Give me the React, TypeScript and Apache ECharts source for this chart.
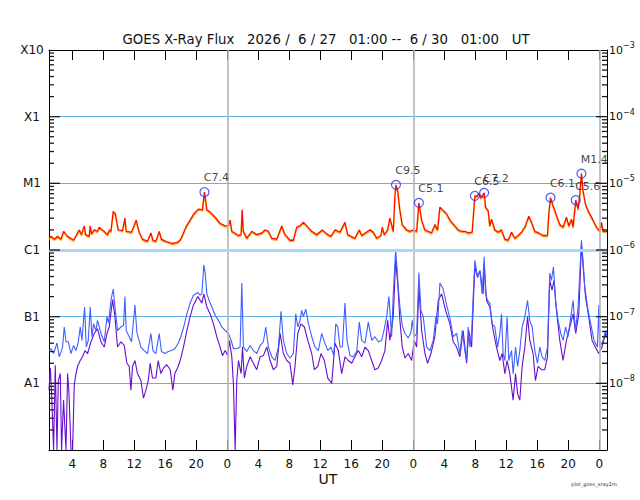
import React, { useEffect, useRef } from 'react';
import * as echarts from 'echarts';

// Hours are counted from 2026-06-27 00:00 UT; the plot spans 01:00 (h=1) to 6/30 01:00 (h=73)
const longPrimary: [number, number][] = [
  [1.0,1.5e-6],[1.26,1.6e-6],[1.68,1.45e-6],[2.11,1.6e-6],[2.55,1.45e-6],[2.88,1.9e-6],[3.4,1.6e-6],[4.17,1.4e-6],
  [4.91,2.0e-6],[5.2,1.7e-6],[5.55,2.3e-6],[5.72,1.7e-6],[6.19,1.6e-6],[6.32,2.3e-6],[6.49,1.75e-6],[6.84,2.0e-6],
  [7.26,1.9e-6],[7.48,2.2e-6],[8.13,1.9e-6],[8.55,1.7e-6],[8.81,2.0e-6],[8.99,1.9e-6],[9.29,3.8e-6],[9.55,3.5e-6],
  [9.93,2.0e-6],[10.49,1.95e-6],[10.8,3.0e-6],[10.96,1.9e-6],[11.65,1.85e-6],[12.25,2.8e-6],[12.64,1.85e-6],
  [13.07,1.45e-6],[13.71,1.35e-6],[14.15,1.8e-6],[14.41,1.4e-6],[14.79,1.35e-6],[15.22,1.9e-6],[15.51,1.45e-6],
  [16.08,1.35e-6],[16.93,1.25e-6],[17.58,1.3e-6],[18.01,1.45e-6],[18.66,2.2e-6],[19.21,2.8e-6],[19.64,3.4e-6],
  [20.28,4.1e-6],[20.8,4.0e-6],[21.06,7.4e-6],[21.37,4.0e-6],[21.79,3.7e-6],[22.44,3.1e-6],[23.08,2.5e-6],
  [23.72,2.3e-6],[24.15,2.3e-6],[24.37,2.8e-6],[24.59,1.9e-6],[25.44,1.65e-6],[25.79,1.7e-6],[25.92,4.0e-6],
  [26.08,1.9e-6],[26.52,1.5e-6],[27.17,1.9e-6],[27.81,1.7e-6],[28.46,1.8e-6],[28.88,2.0e-6],[29.31,1.9e-6],
  [29.75,1.5e-6],[30.39,1.45e-6],[31.03,2.3e-6],[31.46,1.7e-6],[32.1,1.4e-6],[32.53,1.4e-6],[32.97,2.2e-6],
  [33.39,2.3e-6],[33.82,2.6e-6],[34.26,2.3e-6],[34.9,1.9e-6],[35.55,1.7e-6],[36.27,2.0e-6],[36.83,1.75e-6],
  [37.39,1.6e-6],[37.9,2.0e-6],[38.55,1.85e-6],[39.19,2.6e-6],[39.54,1.7e-6],[40.48,1.5e-6],[41.04,2.0e-6],
  [41.35,1.65e-6],[41.99,1.85e-6],[42.42,2.0e-6],[42.84,1.85e-6],[43.28,1.5e-6],[43.83,1.65e-6],[44.0,2.2e-6],
  [44.26,1.7e-6],[44.7,2.0e-6],[44.99,3.0e-6],[45.42,1.9e-6],[45.64,6.5e-6],[45.77,9.5e-6],[45.99,7.7e-6],
  [46.28,3.9e-6],[46.58,2.4e-6],[47.15,2.0e-6],[47.57,1.9e-6],[48.0,2.0e-6],[48.44,1.9e-6],[48.73,5.1e-6],
  [49.08,2.8e-6],[49.51,2.0e-6],[49.93,1.9e-6],[50.37,1.8e-6],[50.79,2.4e-6],[51.14,2.0e-6],[51.44,4.4e-6],
  [51.86,3.9e-6],[52.3,3.5e-6],[52.73,2.8e-6],[53.37,2.3e-6],[53.8,2.0e-6],[54.24,1.9e-6],[54.66,1.9e-6],
  [55.09,1.8e-6],[55.6,1.85e-6],[55.95,6.5e-6],[56.17,6.3e-6],[56.46,7.0e-6],[56.72,6.0e-6],[57.02,6.8e-6],
  [57.15,7.2e-6],[57.33,4.4e-6],[57.66,3.9e-6],[57.88,2.3e-6],[58.1,2.9e-6],[58.53,2.0e-6],[58.95,1.85e-6],
  [59.39,2.0e-6],[59.82,1.45e-6],[60.24,1.4e-6],[60.68,1.85e-6],[61.11,1.5e-6],[61.53,1.65e-6],[61.97,1.85e-6],
  [62.4,2.2e-6],[62.91,3.2e-6],[63.26,2.6e-6],[63.69,1.9e-6],[64.2,1.8e-6],[64.76,1.65e-6],[65.32,1.65e-6],
  [65.49,3.5e-6],[65.71,6.1e-6],[66.04,4.6e-6],[66.48,3.3e-6],[66.91,2.4e-6],[67.33,2.2e-6],[67.77,3.1e-6],
  [68.07,2.3e-6],[68.42,2.9e-6],[68.62,2.2e-6],[68.97,5.6e-6],[69.27,4.1e-6],[69.49,6.8e-6],[69.7,1.4e-5],
  [69.91,7.7e-6],[70.22,4.9e-6],[70.64,3.7e-6],[71.2,2.8e-6],[71.64,2.2e-6],[72.07,1.9e-6],[72.3,2.6e-6],
  [72.49,1.9e-6],[73.0,1.9e-6],
];

const shortPrimary: [number, number][] = [
  [1.0,3.1e-8],[1.26,3.3e-8],[1.59,2.8e-8],[2.03,4.0e-8],[2.33,2.5e-8],[2.75,3.5e-8],[2.97,7.0e-8],[3.19,4.2e-8],
  [3.49,4.2e-8],[3.84,2.8e-8],[4.17,3.7e-8],[4.48,3.1e-8],[4.78,4.2e-8],[5.03,7.0e-8],[5.25,4.4e-8],[5.59,1.4e-7],
  [5.81,3.5e-8],[6.07,4.4e-8],[6.32,1.4e-7],[6.54,5.0e-8],[6.75,7.8e-8],[7.06,6.2e-8],[7.26,8.8e-8],[7.7,5.6e-8],
  [8.13,4.2e-8],[8.48,1.0e-7],[8.68,8.0e-8],[8.99,1.75e-7],[9.29,2.6e-7],[9.51,1.4e-7],[9.84,6.2e-8],[10.28,7.0e-8],
  [10.62,7.4e-8],[10.8,2.0e-7],[10.96,6.2e-8],[11.35,5.0e-8],[11.65,4.2e-8],[12.09,1.5e-7],[12.34,5.8e-8],
  [12.86,3.5e-8],[13.28,3.1e-8],[13.71,2.8e-8],[14.15,5.6e-8],[14.41,3.1e-8],[14.79,2.8e-8],[15.22,5.6e-8],
  [15.51,3.0e-8],[15.95,2.8e-8],[16.38,3.0e-8],[16.8,3.1e-8],[17.24,3.3e-8],[17.67,4.0e-8],[18.01,5.0e-8],
  [18.44,7.4e-8],[18.79,1.1e-7],[19.21,1.6e-7],[19.64,2.1e-7],[20.21,2.3e-7],[20.5,2.1e-7],[20.72,2.2e-7],
  [20.98,6.0e-7],[21.15,4.5e-7],[21.37,2.2e-7],[21.66,1.75e-7],[22.01,1.4e-7],[22.44,1.05e-7],[22.86,8.8e-8],
  [23.3,7.0e-8],[23.73,6.2e-8],[24.15,5.6e-8],[24.5,4.4e-8],[24.8,3.3e-8],[25.23,3.3e-8],[25.66,3.5e-8],
  [25.88,3.2e-7],[26.08,3.5e-8],[26.52,3.0e-8],[26.95,3.7e-8],[27.37,3.1e-8],[27.81,2.8e-8],[28.24,3.7e-8],
  [28.66,4.2e-8],[28.97,7.0e-8],[29.31,3.5e-8],[29.75,2.5e-8],[30.17,2.2e-8],[30.6,3.5e-8],[30.94,1.2e-7],
  [31.24,4.4e-8],[31.68,2.8e-8],[32.1,2.4e-8],[32.53,2.8e-8],[32.84,1.1e-7],[33.1,7.0e-8],[33.39,8.8e-8],
  [33.61,1.24e-7],[33.82,1.0e-7],[34.13,1.3e-7],[34.46,8.0e-8],[34.9,5.0e-8],[35.33,3.5e-8],[35.75,3.1e-8],
  [36.19,5.6e-8],[36.53,4.2e-8],[36.97,3.1e-8],[37.39,3.5e-8],[37.74,2.6e-8],[38.0,7.8e-8],[38.26,7.0e-8],
  [38.55,3.5e-8],[38.85,3.5e-8],[39.19,1.6e-7],[39.45,4.4e-8],[39.84,2.6e-8],[40.26,2.5e-8],[40.7,3.0e-8],
  [41.04,8.3e-8],[41.35,4.4e-8],[41.77,4.0e-8],[42.2,8.3e-8],[42.63,4.4e-8],[43.06,5.0e-8],[43.49,4.2e-8],
  [43.92,4.4e-8],[44.22,6.2e-8],[44.57,1.0e-7],[44.86,2.0e-7],[45.21,5.0e-8],[45.42,2.2e-7],[45.73,1.0e-6],
  [45.9,5.6e-7],[46.06,2.8e-7],[46.28,1.4e-7],[46.58,7.4e-8],[46.93,5.6e-8],[47.35,4.8e-8],[47.7,5.8e-8],
  [47.87,8.8e-8],[48.13,5.0e-8],[48.44,5.6e-8],[48.73,4.6e-7],[48.99,1.24e-7],[49.29,1.0e-7],[49.73,3.5e-8],
  [50.15,3.1e-8],[50.58,4.4e-8],[50.93,1.0e-7],[51.14,7.8e-8],[51.44,3.2e-7],[51.86,2.6e-7],[52.3,1.5e-7],
  [52.73,9.5e-8],[53.16,5.0e-8],[53.59,5.6e-8],[54.02,2.8e-8],[54.32,6.2e-8],[54.67,3.0e-8],[54.88,2.2e-8],
  [55.09,7.0e-8],[55.31,3.5e-8],[55.53,5.6e-8],[55.73,2.0e-7],[55.95,7.0e-7],[56.3,3.9e-7],[56.6,4.9e-7],
  [56.89,2.2e-7],[57.15,7.9e-7],[57.33,2.2e-7],[57.59,1.75e-7],[57.88,1.6e-7],[58.18,7.8e-8],[58.53,7.0e-8],
  [58.88,3.5e-8],[59.17,5.6e-8],[59.39,1.1e-7],[59.59,2.8e-8],[59.82,2.2e-8],[60.11,1.0e-7],[60.33,2.2e-8],
  [60.68,3.1e-8],[60.89,1.4e-8],[61.2,3.5e-8],[61.46,1.8e-8],[61.75,3.1e-8],[62.05,7.0e-8],[62.4,1.0e-7],
  [62.75,1.75e-7],[63.04,8.8e-8],[63.34,7.0e-8],[63.69,3.1e-8],[64.03,2.0e-8],[64.33,3.5e-8],[64.63,2.5e-8],
  [64.97,2.2e-8],[65.32,3.5e-8],[65.61,4.5e-7],[65.83,3.5e-7],[66.09,5.6e-7],[66.35,1.75e-7],[66.69,8.8e-8],
  [67.04,5.6e-8],[67.34,4.4e-8],[67.65,7.0e-8],[67.98,5.0e-8],[68.33,1.0e-7],[68.62,1.75e-7],[68.93,6.2e-8],
  [69.27,1.4e-7],[69.7,1.4e-6],[69.91,7.0e-7],[70.13,2.8e-7],[70.48,1.4e-7],[70.9,7.8e-8],[71.33,4.4e-8],
  [71.77,3.5e-8],[71.95,1.5e-7],[72.06,3.5e-8],[72.49,4.4e-8],[72.8,6.2e-8],[73.0,5.0e-8],
];

const shortSecondary: [number, number][] = [
  [1.0,7.9e-9],[1.17,1.7e-8],[1.34,7.0e-9],[1.59,1.0e-9],[1.81,1.87e-8],[2.03,1.0e-9],[2.2,1.1e-8],[2.46,1.4e-8],
  [2.62,1.0e-9],[2.88,5.6e-9],[3.19,1.0e-9],[3.4,1.4e-8],[3.58,7.0e-9],[3.84,1.0e-9],[4.04,1.0e-9],[4.26,9.5e-9],
  [4.48,1.4e-8],[4.69,1.8e-8],[5.03,2.2e-8],[5.33,2.5e-8],[5.64,3.1e-8],[5.98,2.8e-8],[6.41,4.2e-8],[6.84,5.6e-8],
  [7.26,6.6e-8],[7.7,4.2e-8],[8.13,3.5e-8],[8.48,5.6e-8],[8.77,7.0e-8],[9.2,1.8e-7],[9.51,1.0e-7],[9.84,3.5e-8],
  [10.28,4.2e-8],[10.71,3.7e-8],[11.05,2.0e-8],[11.35,1.8e-8],[11.57,7.9e-9],[11.78,1.8e-8],[12.09,2.2e-8],
  [12.42,1.4e-8],[12.86,1.1e-8],[13.19,6.0e-9],[13.5,7.9e-9],[13.8,1.1e-8],[14.06,2.0e-8],[14.35,1.2e-8],
  [14.79,1.2e-8],[15.09,2.2e-8],[15.44,1.4e-8],[15.77,1.7e-8],[16.21,1.9e-8],[16.64,1.6e-8],[16.98,7.9e-9],
  [17.24,1.4e-8],[17.58,1.7e-8],[17.93,2.2e-8],[18.35,3.5e-8],[18.79,6.2e-8],[19.21,1.0e-7],[19.64,1.5e-7],
  [20.21,2.0e-7],[20.72,1.6e-7],[20.98,2.2e-7],[21.37,1.4e-7],[21.79,1.1e-7],[22.22,7.8e-8],[22.65,5.0e-8],
  [23.08,3.5e-8],[23.38,2.6e-8],[23.73,3.1e-8],[24.07,2.6e-8],[24.28,4.4e-8],[24.59,2.5e-8],[24.8,9.5e-9],
  [25.02,1.0e-9],[25.23,1.1e-8],[25.45,2.2e-8],[25.79,1.4e-8],[25.96,3.5e-8],[26.21,1.2e-8],[26.52,1.8e-8],
  [26.95,2.5e-8],[27.37,2.0e-8],[27.81,1.6e-8],[28.24,2.5e-8],[28.66,2.6e-8],[29.1,3.5e-8],[29.53,2.2e-8],
  [29.95,1.6e-8],[30.39,1.8e-8],[30.82,5.6e-8],[31.24,2.8e-8],[31.68,2.2e-8],[32.1,2.0e-8],[32.45,9.5e-9],
  [32.74,1.8e-8],[33.1,5.6e-8],[33.52,7.8e-8],[33.95,7.0e-8],[34.39,4.4e-8],[34.9,2.8e-8],[35.24,1.6e-8],
  [35.68,1.8e-8],[36.1,2.8e-8],[36.53,2.2e-8],[36.97,1.2e-8],[37.48,1.0e-8],[37.9,4.0e-8],[38.33,3.1e-8],
  [38.77,1.4e-8],[39.19,2.5e-8],[39.62,2.2e-8],[40.06,2.0e-8],[40.48,2.5e-8],[40.91,3.1e-8],[41.35,2.5e-8],
  [41.77,3.5e-8],[42.2,3.1e-8],[42.63,2.2e-8],[43.06,1.6e-8],[43.49,1.7e-8],[43.92,2.2e-8],[44.35,3.1e-8],
  [44.7,8.8e-8],[44.99,4.4e-8],[45.42,1.0e-7],[45.73,7.0e-7],[45.99,3.2e-7],[46.28,8.8e-8],[46.58,3.5e-8],
  [46.93,2.4e-8],[47.35,2.8e-8],[47.79,2.2e-8],[48.13,4.4e-8],[48.44,3.5e-8],[48.73,2.8e-7],[49.08,6.2e-8],
  [49.51,2.8e-8],[49.85,2.0e-8],[50.28,2.8e-8],[50.79,5.0e-8],[51.22,1.75e-7],[51.66,2.2e-7],[52.17,1.24e-7],
  [52.73,7.8e-8],[53.16,4.2e-8],[53.59,3.5e-8],[54.02,2.5e-8],[54.44,6.2e-8],[54.88,2.0e-8],[55.18,6.2e-8],
  [55.53,3.5e-8],[55.73,1.4e-7],[55.95,5.6e-7],[56.3,3.9e-7],[56.6,4.9e-7],[57.02,2.2e-7],[57.15,6.2e-7],
  [57.46,1.75e-7],[57.88,1.4e-7],[58.31,6.2e-8],[58.74,3.5e-8],[59.17,2.2e-8],[59.47,2.8e-8],[59.82,1.4e-8],
  [60.11,2.2e-8],[60.46,1.4e-8],[60.89,5.6e-9],[61.2,1.4e-8],[61.46,7.0e-9],[61.75,5.6e-9],[62.05,1.8e-8],
  [62.4,3.5e-8],[62.75,1.0e-7],[63.04,4.4e-8],[63.46,2.8e-8],[63.77,1.1e-8],[64.11,1.8e-8],[64.54,1.6e-8],
  [64.97,1.6e-8],[65.32,2.5e-8],[65.61,3.5e-7],[65.91,2.5e-7],[66.17,3.5e-7],[66.48,1.24e-7],[66.91,4.4e-8],
  [67.33,2.2e-8],[67.77,4.4e-8],[68.2,7.0e-8],[68.62,1.1e-7],[68.97,5.6e-8],[69.36,1.1e-7],[69.7,1.2e-6],
  [69.96,4.9e-7],[70.22,2.0e-7],[70.64,1.0e-7],[71.07,4.4e-8],[71.5,3.5e-8],[71.93,2.8e-8],[72.36,3.5e-8],
  [72.8,5.6e-8],[73.0,4.8e-8],
];

const flareTimes = [21.06, 45.77, 48.73, 55.95, 57.15, 65.71, 68.97, 69.7];
const flareFlux = [7.4e-6, 9.5e-6, 5.1e-6, 6.5e-6, 7.2e-6, 6.1e-6, 5.6e-6, 1.4e-5];
const flareClass = ['C7.4', 'C9.5', 'C5.1', 'C6.5', 'C7.2', 'C6.1', 'C5.6', 'M1.4'];

const hourTicks = [4, 8, 12, 16, 20, 24, 28, 32, 36, 40, 44, 48, 52, 56, 60, 64, 68, 72];
const dayBoundaries = [24, 48, 72];
const decadeExponents = [-8, -7, -6, -5, -4, -3];
const goesClassLabels = ['A1', 'B1', 'C1', 'M1', 'X1', 'X10'];
const gridDecades = [1e-8, 1e-7, 1e-6, 1e-5, 1e-4];
const decadeStarts = [1e-9, 1e-8, 1e-7, 1e-6, 1e-5, 1e-4];
const minorMultipliers = [2, 3, 4, 5, 6, 7, 8, 9];
const c1Exponent = -6;

const titleText = 'GOES X-Ray Flux   2026 /  6 / 27   01:00 --  6 / 30   01:00   UT';
const xAxisTitle = 'UT';
const creditText = 'plot_goes_xray2m';

const FONT = 'DejaVu Sans, sans-serif';

// tick marks on the log axis: [flux, tick length]
const yTickMarks: [number, number][] = [];
decadeStarts.forEach((d) => minorMultipliers.forEach((m) => yTickMarks.push([d * m, 5])));
gridDecades.forEach((d) => yTickMarks.push([d, 11]));

const classLabelOf = (v: number) => {
  const r = Math.round(v);
  const i = decadeExponents.indexOf(r);
  return i >= 0 && Math.abs(v - r) < 1e-6 ? goesClassLabels[i] : '';
};

export default function App() {
  const ref = useRef<HTMLDivElement>(null);
  useEffect(() => {
    if (!ref.current) return;
    const chart = echarts.init(ref.current, null, { renderer: 'svg' });
    const baseX = {
      type: 'value', min: 1, max: 73,
      axisLine: { show: true, onZero: false, lineStyle: { color: '#000', width: 1 } },
      axisTick: { show: true, inside: true, length: 10, customValues: hourTicks, lineStyle: { color: '#000', width: 1 } },
      splitLine: { show: false },
    };
    const option: any = {
      animation: false,
      backgroundColor: '#ffffff',
      grid: { left: 49, right: 33, top: 50, bottom: 50, containLabel: false, outerBoundsMode: 'none' },
      xAxis: [
        {
          ...baseX, position: 'bottom',
          axisLabel: {
            show: true, customValues: hourTicks, formatter: (v: number) => String(v % 24),
            color: '#111', fontSize: 12, fontFamily: FONT, margin: 8,
          },
        },
        { ...baseX, position: 'top', axisLabel: { show: false } },
      ],
      yAxis: [
        { type: 'log', logBase: 10, min: 1e-9, max: 1e-3, show: false },
        {
          type: 'value', min: -9, max: -3, interval: 1, position: 'left',
          axisLine: { show: true, onZero: false, lineStyle: { color: '#000', width: 1 } },
          axisTick: { show: false },
          axisLabel: { show: true, formatter: classLabelOf, align: 'center', margin: 17, color: '#111', fontSize: 12, fontFamily: FONT },
          splitLine: { show: true, showMinLine: false, showMaxLine: false, lineStyle: { color: '#62b2ea', width: 1 } },
        },
        {
          type: 'value', min: -9, max: -3, interval: 1, position: 'right',
          axisLine: { show: true, onZero: false, lineStyle: { color: '#000', width: 1 } },
          axisTick: { show: false },
          axisLabel: {
            show: true, margin: 2, align: 'left', color: '#111', fontFamily: FONT,
            formatter: (v: number) => (v <= -9 ? '' : `{m|10}{e|\u2212${-Math.round(v)}}`),
            rich: {
              m: { fontSize: 11, fontFamily: FONT, color: '#111' },
              e: { fontSize: 8, fontFamily: FONT, color: '#111', padding: [0, 0, 9, 0] },
            },
          },
          splitLine: { show: false },
        },
      ],
      series: [
        {
          type: 'line', data: [], xAxisIndex: 0, yAxisIndex: 1, z: 1, silent: true,
          markLine: {
            silent: true, symbol: ['none', 'none'], animation: false,
            label: { show: false },
            data: [
              ...dayBoundaries.map((d) => ({ xAxis: d, lineStyle: { color: '#b4b4b4', width: 1.6, type: 'solid' } })),
              { yAxis: c1Exponent, lineStyle: { color: '#a9d7f7', width: 3, type: 'solid' } },
            ],
          },
        },
        {
          name: 'short primary', type: 'line', data: shortPrimary, xAxisIndex: 0, yAxisIndex: 0, z: 3,
          showSymbol: false, symbol: 'none', lineStyle: { color: '#3f5fff', width: 1.1 },
        },
        {
          name: 'short secondary', type: 'line', data: shortSecondary, xAxisIndex: 0, yAxisIndex: 0, z: 2,
          showSymbol: false, symbol: 'none', lineStyle: { color: '#6a0ccf', width: 1.1 },
        },
        {
          name: 'long primary', type: 'line', data: longPrimary, xAxisIndex: 0, yAxisIndex: 0, z: 4,
          showSymbol: false, symbol: 'none',
          lineStyle: { color: '#ff0a00', width: 1.4, shadowColor: '#ffa000', shadowOffsetY: 1.1, shadowBlur: 0 },
        },
        {
          name: 'flares', type: 'scatter', xAxisIndex: 0, yAxisIndex: 0, z: 5,
          data: flareTimes.map((t, i) => [t, flareFlux[i], flareClass[i]]),
          symbol: 'circle', symbolSize: 9,
          itemStyle: { color: 'rgba(0,0,0,0)', borderColor: '#2233ff', borderWidth: 1.2 },
          label: {
            show: true, formatter: (p: any) => p.data[2], position: [4.5, -9], align: 'left', verticalAlign: 'middle',
            color: '#111', fontSize: 11, fontFamily: FONT,
          },
          labelLayout: { hideOverlap: false },
        },
      ],
    };
    chart.setOption(option);

    // y-axis major/minor ticks, placed through the log axis' own scale
    const xLeft = Number(chart.convertToPixel({ xAxisIndex: 0 }, 1));
    const xRight = Number(chart.convertToPixel({ xAxisIndex: 0 }, 73));
    const tickLines: any[] = [];
    yTickMarks.forEach(([v, len]) => {
      const py = Number(chart.convertToPixel({ yAxisIndex: 0 }, v));
      if (!isFinite(py)) return;
      tickLines.push({ type: 'line', z: 100, shape: { x1: xLeft, y1: py, x2: xLeft + len, y2: py }, style: { stroke: '#1a1a1a', lineWidth: 1.3 } });
      tickLines.push({ type: 'line', z: 100, shape: { x1: xRight - len, y1: py, x2: xRight, y2: py }, style: { stroke: '#1a1a1a', lineWidth: 1.3 } });
    });
    chart.setOption({
      graphic: [
        { type: 'text', x: 326, y: 39, style: { text: titleText, fill: '#111', font: `13.3px ${FONT}`, textAlign: 'center', textVerticalAlign: 'middle' } },
        { type: 'text', x: 328, y: 479, style: { text: xAxisTitle, fill: '#111', font: `14px ${FONT}`, textAlign: 'center', textVerticalAlign: 'middle' } },
        { type: 'text', x: 594, y: 484, style: { text: creditText, fill: '#333', font: `5px ${FONT}`, textAlign: 'center', textVerticalAlign: 'middle' } },
        ...tickLines,
      ],
    });
    return () => chart.dispose();
  }, []);
  return (
    <div
      ref={ref}
      style={{ position: 'absolute', left: 0, top: 0, width: 640, height: 500, background: '#fff' }}
    />
  );
}
